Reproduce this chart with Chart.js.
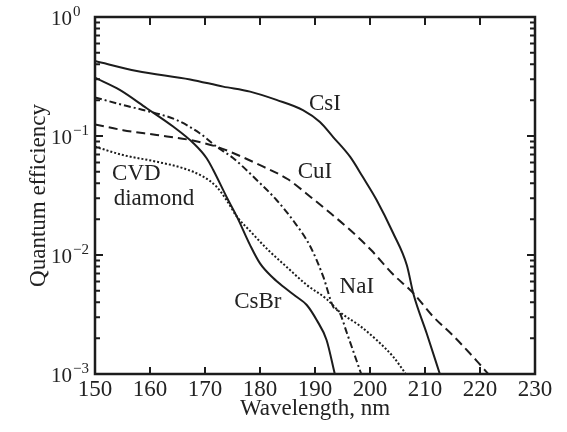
<!DOCTYPE html>
<html><head><meta charset="utf-8">
<script src="https://cdn.jsdelivr.net/npm/chart.js@4/dist/chart.umd.min.js"></script>
<style>html,body{margin:0;padding:0;background:#fff}#wrap{width:567px;height:432px}</style>
</head><body><div id="wrap"><canvas id="c" width="567" height="432"></canvas></div>
<script>
// ---- data ----
const wavelengthTicks = [150,160,170,180,190,200,210,220,230];
const decadeTicks = [1, 0.1, 0.01, 0.001];
const decadeExponents = ['0', '\u22121', '\u22122', '\u22123'];
const minorMultipliers = [2,3,4,5,6,7,8,9];

const csiWavelength = [150, 157.6, 167.3, 173.3, 178.2, 183.0, 187.8, 190.9, 193.3, 196.4, 198.7, 201.2, 204.2, 206.7, 207.9, 210.3, 212.7];
const csiQE = [0.427, 0.352, 0.299, 0.260, 0.236, 0.201, 0.165, 0.131, 0.098, 0.0667, 0.0452, 0.029, 0.0153, 0.0082, 0.0047, 0.0022, 0.001];

const csbrWavelength = [150, 154.5, 159.4, 164.2, 167.9, 170.3, 171.5, 173.9, 175.8, 178.2, 180.0, 182.4, 184.5, 186.5, 188.5, 190.3, 192.1, 193.6];
const csbrQE = [0.309, 0.244, 0.171, 0.120, 0.0869, 0.065, 0.0518, 0.0309, 0.021, 0.0121, 0.0085, 0.0064, 0.0053, 0.0045, 0.0038, 0.00284, 0.00193, 0.001];

const naiWavelength = [150, 155.1, 160, 164.9, 169.1, 172.1, 175.1, 179.4, 183.0, 186.1, 189.1, 191.5, 193.3, 194.5, 195.8, 198.4];
const naiQE = [0.211, 0.182, 0.160, 0.136, 0.105, 0.0813, 0.0653, 0.0427, 0.029, 0.0193, 0.0119, 0.00657, 0.00368, 0.00326, 0.00221, 0.001];

const cuiWavelength = [150, 155.1, 161.2, 167.3, 172.1, 175.1, 180.6, 185.0, 189.6, 192.1, 196.4, 200.2, 204.0, 207.9, 211.5, 215.1, 219.4, 221.5];
const cuiQE = [0.125, 0.112, 0.102, 0.0925, 0.0813, 0.072, 0.0552, 0.0435, 0.0297, 0.0239, 0.0162, 0.011, 0.00702, 0.00477, 0.00303, 0.0021, 0.00129, 0.001];

const cvdWavelength = [150, 155.1, 161.2, 166.1, 169.7, 172.1, 173.9, 175.8, 178.2, 181.5, 184.9, 188.5, 192.1, 194.5, 198.2, 201.2, 204.2, 206.4];
const cvdQE = [0.0813, 0.0692, 0.0608, 0.0535, 0.0455, 0.0375, 0.029, 0.021, 0.0159, 0.011, 0.0079, 0.0056, 0.00427, 0.00332, 0.00253, 0.00193, 0.0014, 0.00102];

// curve annotations (text anchored in data coordinates)
const curveLabels = [
  {text:'CsI', x:191.8, y:0.186, align:'center'},
  {text:'CuI', x:190.0, y:0.0498, align:'center'},
  {text:'CVD', x:153.1, y:0.048, align:'left'},
  {text:'diamond', x:153.4, y:0.0296, align:'left'},
  {text:'NaI', x:197.6, y:0.00538, align:'center'},
  {text:'CsBr', x:179.6, y:0.00403, align:'center'}
];

// ---- chart ----
const SERIF = '"Liberation Serif", "Times New Roman", serif';
const INK = '#1c1c1c';
const pts = (xs, ys) => xs.map((x, i) => ({x, y: ys[i]}));

function ds(label, xs, ys, dash) {
  return {label, data: pts(xs, ys), borderColor: INK, borderWidth: 2, borderDash: dash,
          pointRadius: 0, fill: false, cubicInterpolationMode: 'monotone'};
}

const framePlugin = {
  id: 'frame',
  afterDatasetsDraw(chart) {
    const {ctx, chartArea: a, scales: {x, y}} = chart;
    ctx.save();
    ctx.strokeStyle = INK;
    ctx.lineWidth = 2.5;
    ctx.strokeRect(a.left, a.top, a.right - a.left, a.bottom - a.top);
    ctx.lineWidth = 2;
    ctx.beginPath();
    wavelengthTicks.forEach(v => {
      const px = x.getPixelForValue(v);
      ctx.moveTo(px, a.bottom); ctx.lineTo(px, a.bottom - 7);
      ctx.moveTo(px, a.top); ctx.lineTo(px, a.top + 8);
    });
    decadeTicks.forEach(d => {
      const py = y.getPixelForValue(d);
      ctx.moveTo(a.left, py); ctx.lineTo(a.left + 8, py);
      ctx.moveTo(a.right, py); ctx.lineTo(a.right - 8, py);
      if (d < 1) {
        minorMultipliers.forEach(m => {
          const pm = y.getPixelForValue(d * m);
          ctx.moveTo(a.left, pm); ctx.lineTo(a.left + 5, pm);
          ctx.moveTo(a.right, pm); ctx.lineTo(a.right - 5, pm);
        });
      }
    });
    ctx.stroke();

    // y decade labels 10^n
    ctx.fillStyle = '#222';
    ctx.textBaseline = 'middle';
    decadeTicks.forEach((d, i) => {
      const py = y.getPixelForValue(d);
      ctx.font = '21px ' + SERIF;
      ctx.textAlign = 'right';
      ctx.fillText('10', 72, py + 2);
      ctx.font = '15px ' + SERIF;
      ctx.textAlign = 'left';
      ctx.fillText(decadeExponents[i], 73, py - 5);
    });

    // curve labels
    ctx.font = '23px ' + SERIF;
    curveLabels.forEach(l => {
      ctx.textAlign = l.align;
      ctx.fillText(l.text, x.getPixelForValue(l.x), y.getPixelForValue(l.y));
    });
    ctx.restore();
  }
};

new Chart(document.getElementById('c'), {
  type: 'line',
  data: {datasets: [
    ds('CsI', csiWavelength, csiQE, []),
    ds('CsBr', csbrWavelength, csbrQE, []),
    ds('NaI', naiWavelength, naiQE, [7,3,2,3]),
    ds('CuI', cuiWavelength, cuiQE, [9,5]),
    ds('CVD diamond', cvdWavelength, cvdQE, [2,2])
  ]},
  options: {
    responsive: false,
    animation: false,
    layout: {padding: {left: 0, right: 32, top: 17, bottom: 0}},
    plugins: {legend: {display: false}, tooltip: {enabled: false}},
    scales: {
      x: {
        type: 'linear', min: 150, max: 230,
        grid: {display: false, drawTicks: false},
        border: {display: false},
        ticks: {stepSize: 10, autoSkip: false, maxRotation: 0, padding: 2, color: '#222',
                font: {family: SERIF, size: 23}},
        title: {display: true, text: 'Wavelength, nm', color: '#222',
                font: {family: SERIF, size: 23}, padding: {top: 0, bottom: 9}},
        afterFit(s) { s.height = 58; }
      },
      y: {
        type: 'logarithmic', min: 0.001, max: 1,
        grid: {display: false, drawTicks: false},
        border: {display: false},
        ticks: {display: false},
        title: {display: true, text: 'Quantum efficiency', color: '#222',
                font: {family: SERIF, size: 23}, padding: {top: 25, bottom: 0}},
        afterFit(s) { s.width = 95; }
      }
    }
  },
  plugins: [framePlugin]
});
</script></body></html>
